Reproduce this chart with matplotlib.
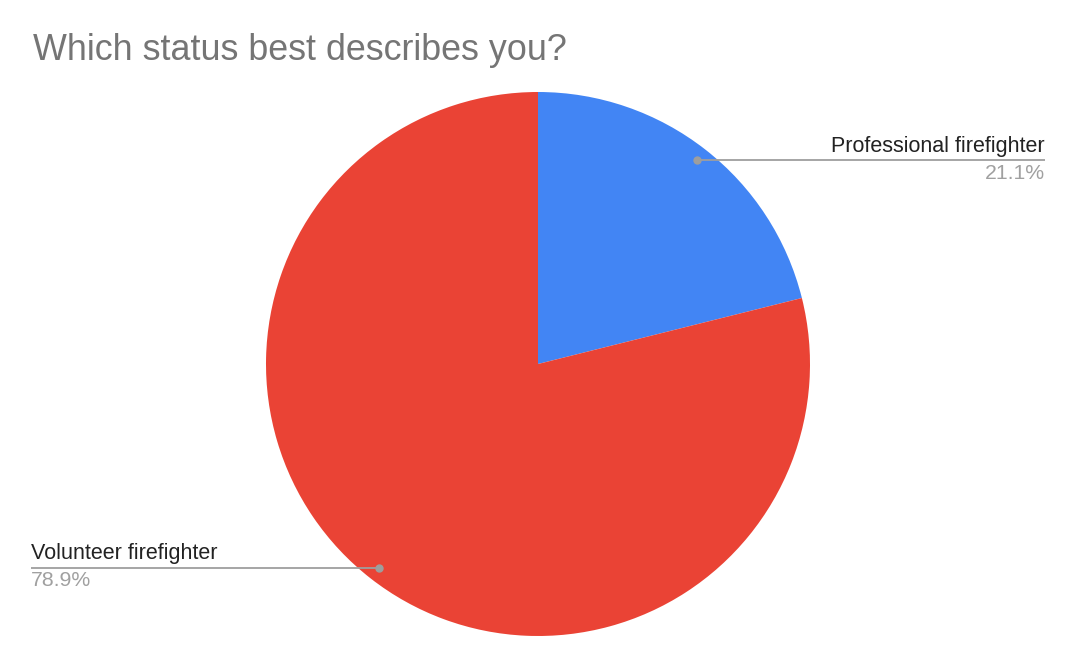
import matplotlib.pyplot as plt
import numpy as np

plt.rcParams["font.family"] = ["Liberation Sans", "DejaVu Sans"]

# Data
categories = ["Professional firefighter", "Volunteer firefighter"]
shares = [21.1, 78.9]
colors = ["#4285f4", "#ea4335"]

fig = plt.figure(figsize=(10.68, 6.64), dpi=100)
ax = fig.add_axes([266 / 1068, 28 / 664, 544 / 1068, 544 / 664])

wedges, _ = ax.pie(shares, colors=colors, startangle=90, counterclock=False,
                   radius=1.0, wedgeprops=dict(linewidth=0))
ax.set_xlim(-1, 1)
ax.set_ylim(-1, 1)
ax.set_aspect("equal")
ax.axis("off")

# Leader lines and labels
for w, name, val in zip(wedges, categories, shares):
    mid = np.deg2rad((w.theta1 + w.theta2) / 2)
    dx, dy = 0.95 * np.cos(mid), 0.95 * np.sin(mid)
    side = 1 if dx > 0 else -1
    xend = 1.864 * side
    ax.plot([dx, xend], [dy, dy], color="#9e9e9e", lw=1.3, clip_on=False,
            solid_capstyle="butt")
    ax.plot(dx, dy, "o", color="#9e9e9e", ms=5, clip_on=False)
    ha = "right" if side > 0 else "left"
    ax.annotate(name, (xend, dy), xytext=(0, 2.5), textcoords="offset points",
                ha=ha, va="bottom", fontsize=15.5, color="#222222",
                annotation_clip=False)
    ax.annotate(f"{val}%", (xend, dy), xytext=(0, -2.5), textcoords="offset points",
                ha=ha, va="top", fontsize=15.3, color="#a0a0a0",
                annotation_clip=False)

fig.text(33 / 1068, 1 - 50 / 664, "Which status best describes you?",
         fontsize=25.8, color="#757575", ha="left", va="center")

fig.savefig("out.png", dpi=100)
